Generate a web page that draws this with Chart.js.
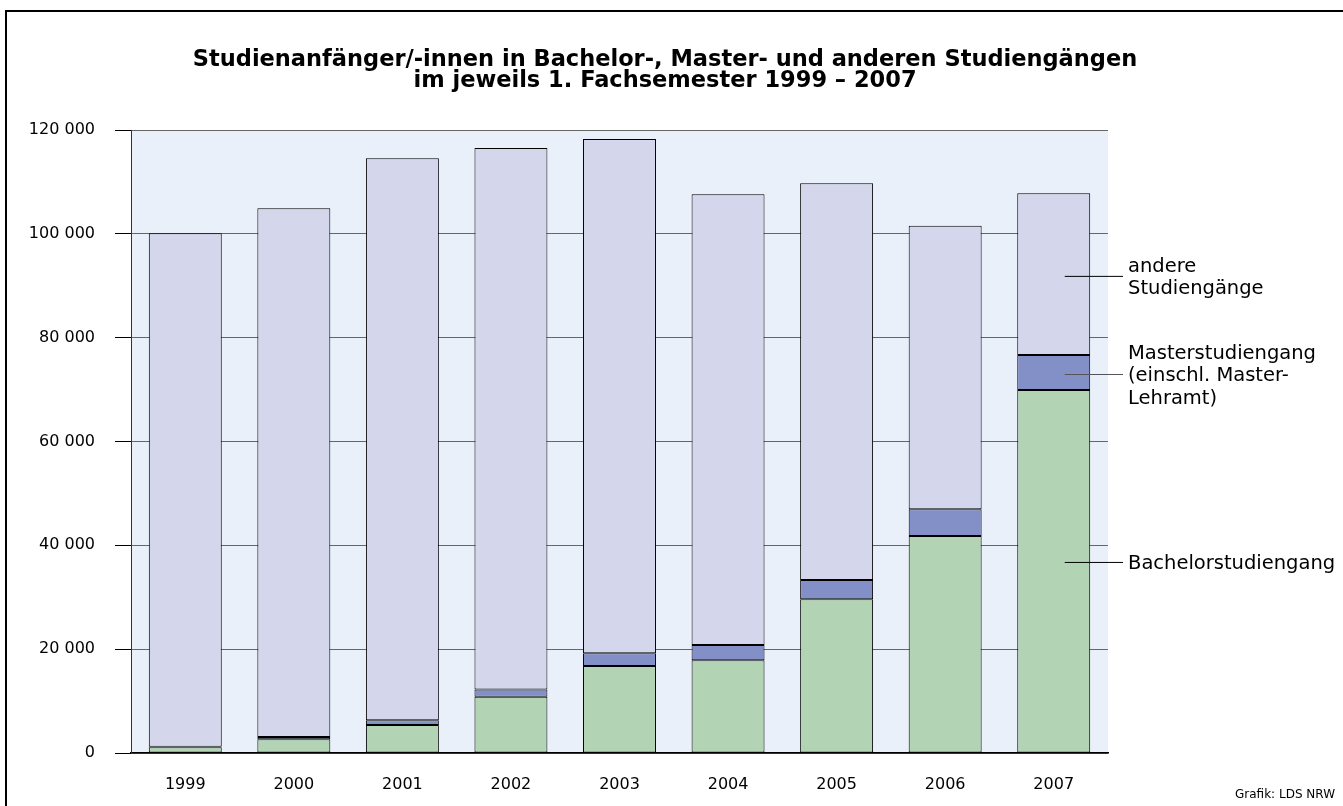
<!DOCTYPE html>
<html>
<head>
<meta charset="utf-8">
<script src="https://cdn.jsdelivr.net/npm/chart.js@4.4.1/dist/chart.umd.min.js"></script>
<style>
  html, body { margin: 0; padding: 0; background: #fff; }
  canvas { display: block; }
</style>
</head>
<body>
<canvas id="chart" width="1343" height="806"></canvas>
<script>
const years = ["1999", "2000", "2001", "2002", "2003", "2004", "2005", "2006", "2007"];
const bachelor = [1100, 2640, 5400, 10850, 16760, 17860, 29600, 41800, 69920];
const master = [100, 440, 900, 1400, 2440, 2940, 3720, 5140, 6740];
const andere = [98900, 101840, 108250, 104280, 99070, 86810, 76410, 54630, 31140];
const yTicks = [0, 20000, 40000, 60000, 80000, 100000, 120000];

const FONT = "'DejaVu Sans', 'Open Sans', sans-serif";

function fmt(v) {
    return String(v).replace(/\B(?=(\d{3})+(?!\d))/g, " ");
}

// frame, plot background, title, labels at the right
const decor = {
    id: "decor",
    beforeDraw(chart) {
        const ctx = chart.ctx;
        const a = chart.chartArea;
        ctx.save();
        ctx.fillStyle = "#fff";
        ctx.fillRect(0, 0, chart.width, chart.height);
        ctx.strokeStyle = "#000";
        ctx.lineWidth = 2;
        ctx.strokeRect(6, 11, chart.width + 20, chart.height + 20);
        ctx.fillStyle = "#e9f0fa";
        ctx.fillRect(a.left, a.top, a.right - a.left, a.bottom - a.top);
        ctx.restore();
    },
    afterDraw(chart) {
        const ctx = chart.ctx;
        const x = chart.scales.x;
        const y = chart.scales.y;
        ctx.save();
        ctx.fillStyle = "#000";
        ctx.textAlign = "center";
        ctx.textBaseline = "middle";
        ctx.font = "bold 22.5px " + FONT;
        ctx.fillText("Studienanfänger/-innen in Bachelor-, Master- und anderen Studiengängen", 665, 60);
        ctx.fillText("im jeweils 1. Fachsemester 1999 – 2007", 665, 81);

        ctx.font = "12px " + FONT;
        ctx.textAlign = "right";
        ctx.fillText("Grafik: LDS NRW", 1335, 795);

        const last = x.getPixelForValue(years.length - 1);
        const notes = [
            { at: 91900, lines: ["andere", "Studiengänge"], color: "#000" },
            { at: 73000, lines: ["Masterstudiengang", "(einschl. Master-", "Lehramt)"], color: "#555" },
            { at: 36800, lines: ["Bachelorstudiengang"], color: "#000" }
        ];
        ctx.font = "19.5px " + FONT;
        ctx.textAlign = "left";
        notes.forEach(n => {
            const py = y.getPixelForValue(n.at);
            ctx.strokeStyle = n.color;
            ctx.lineWidth = 1;
            ctx.beginPath();
            ctx.moveTo(last + 11, py + 0.5);
            ctx.lineTo(1123, py + 0.5);
            ctx.stroke();
            const lh = 22.5;
            const top = py + 2 - (n.lines.length - 1) * lh / 2;
            n.lines.forEach((t, i) => ctx.fillText(t, 1128, top + i * lh));
        });
        ctx.restore();
    }
};

new Chart(document.getElementById("chart"), {
    type: "bar",
    data: {
        labels: years,
        datasets: [
            {
                label: "Bachelorstudiengang",
                data: bachelor,
                backgroundColor: "#b2d4b5",
                borderColor: "#000",
                borderWidth: 1,
                borderSkipped: false
            },
            {
                label: "Masterstudiengang (einschl. Master-Lehramt)",
                data: master,
                backgroundColor: "#8390c7",
                borderColor: "#000",
                borderWidth: 1,
                borderSkipped: false
            },
            {
                label: "andere Studiengänge",
                data: andere,
                backgroundColor: "#d4d6eb",
                borderColor: "#000",
                borderWidth: 1,
                borderSkipped: false
            }
        ]
    },
    options: {
        responsive: false,
        animation: false,
        devicePixelRatio: 1,
        barPercentage: 0.672,
        categoryPercentage: 1,
        layout: { padding: { left: 0, right: 235, top: 130, bottom: 0 } },
        scales: {
            x: {
                stacked: true,
                grid: { display: false, drawTicks: false },
                border: { display: true, color: "#000", width: 1.5 },
                ticks: { color: "#000", font: { family: FONT, size: 16 }, padding: 22 },
                afterFit: s => { s.height = 53; }
            },
            y: {
                stacked: true,
                min: 0,
                max: 120000,
                afterBuildTicks: s => { s.ticks = yTicks.map(v => ({ value: v })); },
                grid: { color: "#666", lineWidth: 1, tickColor: "#000", tickLength: 16 },
                border: { display: true, color: "#333", width: 1 },
                ticks: {
                    color: "#000",
                    font: { family: FONT, size: 16 },
                    padding: 20,
                    callback: v => fmt(v)
                },
                afterFit: s => { s.width = 131; }
            }
        },
        plugins: {
            legend: { display: false },
            title: { display: false },
            tooltip: { enabled: false }
        }
    },
    plugins: [decor]
});
</script>
</body>
</html>
